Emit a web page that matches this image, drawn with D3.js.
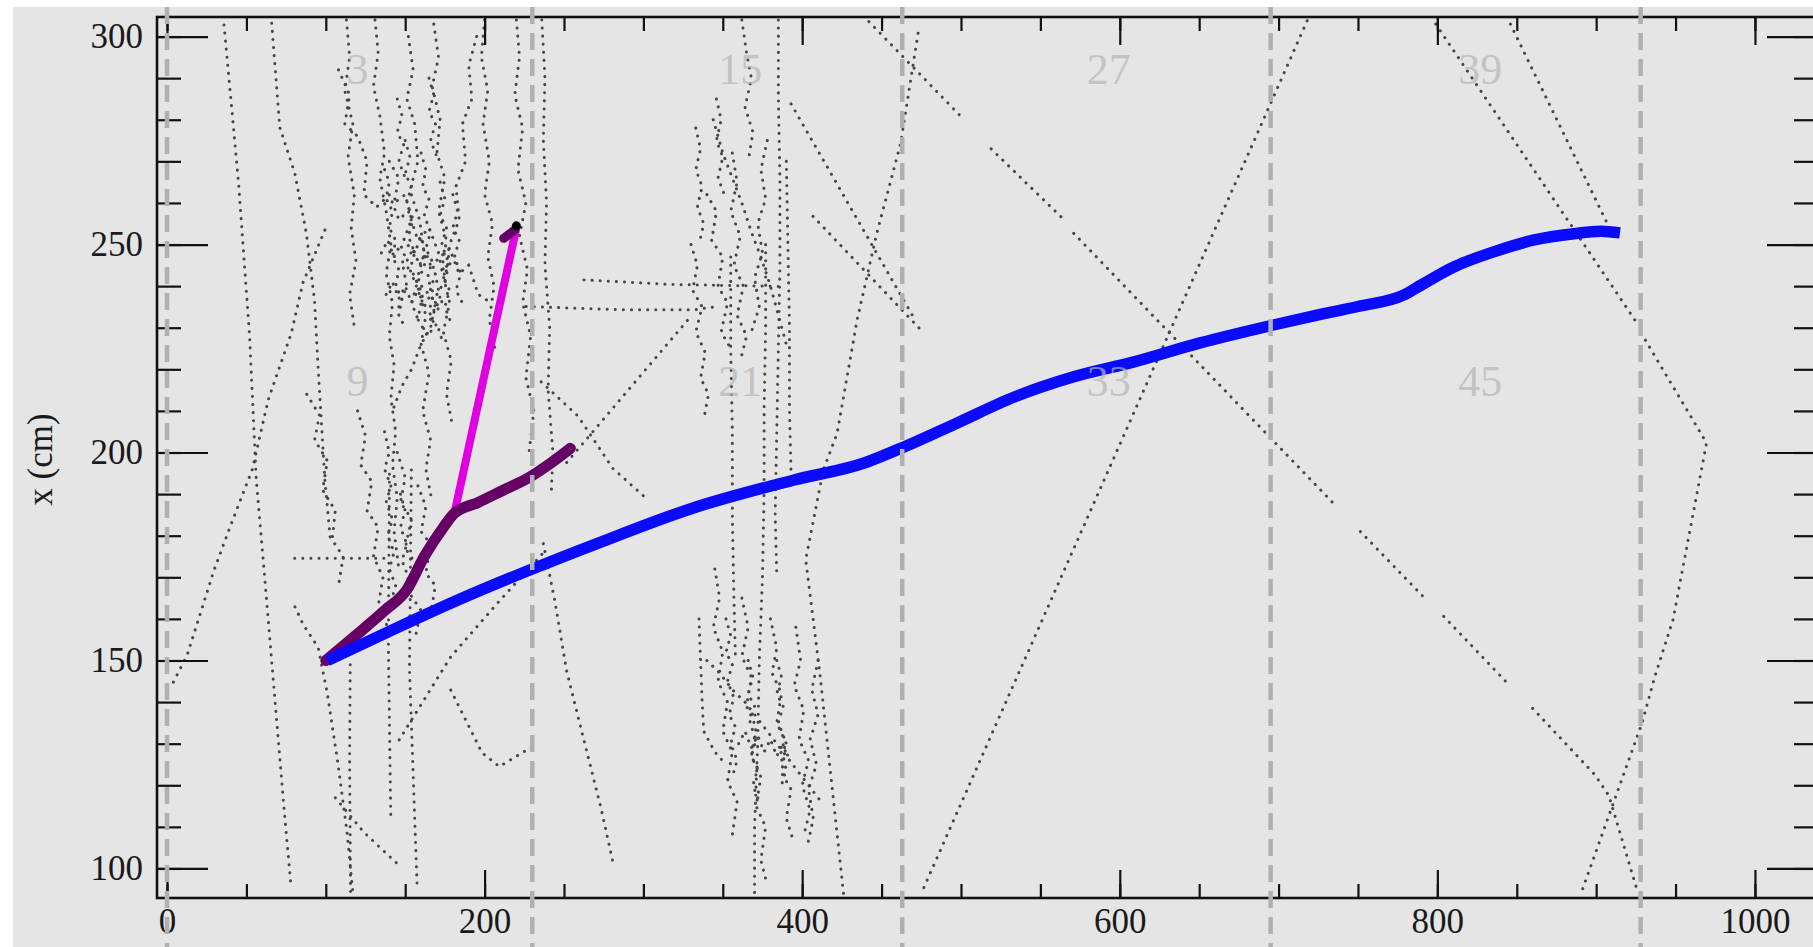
<!DOCTYPE html>
<html>
<head>
<meta charset="utf-8">
<script src="https://cdn.jsdelivr.net/npm/d3@7"></script>
<style>
  html, body { margin: 0; padding: 0; background: #ffffff; }
  svg { display: block; }
</style>
</head>
<body>
<svg id="chart" width="1813" height="947"></svg>
<script>
// ---------------- axis ticks ----------------
const xTickValues = d3.range(0, 1001, 50);
const xMajorTicks = [0, 200, 400, 600, 800, 1000];
const yTickValues = d3.range(100, 301, 10);
const yMajorTicks = [100, 150, 200, 250, 300];

// ---------------- wire-group boundaries and group numbers ----------------
const groupBounds = [0, 230, 463, 695, 928];
const groupLabels = [3, 15, 27, 39, 9, 21, 33, 45];
const groupLabelX = [120, 361, 593, 827, 120, 361, 593, 827];
const groupLabelY = [292, 292, 292, 292, 217, 217, 217, 217];

// ---------------- reconstructed tracks (z, x in cm) ----------------
const longTrack = [[101,150],[140,157],[180,164],[230,172],[272,178.3],[330,186.5],[395,193.4],[440,197.6],
  [462,201],[497,207],[534,213.4],[571,218.2],[609,221.8],[650,226.3],[696,230.6],[725,233.1],[750,235.1],
  [779,237.9],[790,240.3],[811,244.7],[836,248.3],[861,251.1],[886,252.6],[903,253.2],[915,252.8]];
const heavyTrack = [[100,150],[125,158],[137,162],[151,167],[162,175],[174,182],[181,185.4],[196,188],
  [212,191],[228,194],[240,197],[254,201]];
const heavyStub = [[212,251.5],[219,253.5]];
const branchTrack = [[181,185.4],[220,254]];
const branchEnd = [220, 254.5];

// ---------------- low-energy hits drawn as dotted paths ----------------
const straightHits = [
  [[442,303.6],[502,280]],
  [[519,273],[564,256.3]],
  [[571,252.7],[734,188]],
  [[751.5,181],[791,165.4]],
  [[804,160.6],[843,145]],
  [[860,138.5],[899,122.6],[908,117.5],[926,94.5]],
  [[799,303],[925,231.5]],
  [[931,227],[969.5,202.3],[948.4,159.8],[937,146.2],[929,135.1],[890,93.5]],
  [[846,303],[909,253.5]],
  [[718,303.8],[475,94]],
  [[473,300.8],[462,274.3],[447,252.7],[434.6,231.9],[422,204.6],[413.3,195.8],[402.2,174.2],[410.9,147.7],[426,94]],
  [[393,283.8],[471.6,231.5]],
  [[406.8,256.8],[476.7,228.7]],
  [[251.7,197.6],[329.6,232.6]],
  [[262.6,241.5],[317.2,240.4],[390,239.9]],
  [[226.2,235.1],[288.1,234.3],[331.8,234.3],[346.4,235.1]],
  [[235.6,217],[258.9,208.7],[280.7,196.2],[302.6,188.7]],
  [[237,178.1],[244.3,164.2],[251.6,147.6],[258.9,136.4],[266.2,125.3],[273.5,114.2],[280.7,101.7]],
  [[4,144.8],[12.8,151.4],[29.7,171.8],[39.9,182.3],[53.7,195.9],[63.7,212.6],[78.3,228.7],[85.5,240.7],[99.4,253.5]],
  [[35.9,302.8],[45,265],[52,228],[56.2,193.4],[61.1,171.8],[73.4,115.7],[78.1,95.6]],
  [[65.9,303.2],[71,278.2],[80.5,267.1],[87.8,252.6],[92.9,236.5],[95.1,220.7],[99.4,193.4],[103.1,178.1]],
  [[80.4,174.6],[138.2,174.6]],
  [[80.6,162.9],[85.7,158.7],[95.2,153.1],[101,142],[107.6,125.3],[113.4,108.6],[117,94.2]],
  [[115.4,149],[115,125],[115.6,94.2]],
  [[140.1,194.8],[139.4,153.1],[140.9,112.8]],
  [[153.9,195.8],[152.7,147.7],[157.5,95.6]],
  [[146.2,130.9],[178.7,150.9],[207.9,163.7],[237,175.9]],
  [[178.7,142.9],[198.4,127.8],[209.3,124.5],[229.7,129.2]],
  [[106,117],[124.2,108.6],[146,100.8]]
];

const upstreamShower = [
  [[131,304],[133,296],[130,288],[134,281],[137,272],[134,266],[138,258],[141,250],[138,243],[142,236],[140,228],[143,221],[141,213],[144,205],[142,197],[145,189],[143,181],[146,172]],
  [[152,300],[155,292],[151,285],[156,279],[158,270],[153,263],[159,256],[162,248],[157,241],[163,233],[160,226],[165,219],[161,210],[166,203],[163,196],[167,188]],
  [[168,303],[171,295],[167,288],[172,280],[170,272],[175,266],[171,258],[176,251],[173,244],[178,236],[174,229],[179,222],[176,214],[180,206]],
  [[108,292],[115,286],[112,279],[120,276],[126,270],[124,262],[132,259],[140,262],[146,256],[152,258],[158,251],[165,254],[172,247],[178,249],[184,243],[190,245],[196,238],[204,236]],
  [[195,300],[190,293],[192,285],[186,279],[188,270],[182,264],[184,256],[178,250],[176,242],[170,238],[166,230],[160,226],[154,220],[148,216],[142,210]],
  [[200,304],[198,295],[202,287],[199,279],[203,270],[200,262],[205,255],[202,247],[206,240],[203,232],[207,224]],
  [[113,304],[115,295],[112,287],[117,279],[114,271],[118,262],[116,254],[119,246],[115,238],[118,230]],
  [[140,270],[146,266],[143,260],[150,262],[154,256],[149,251],[156,248],[160,252],[163,246],[158,241],[165,238],[169,243],[172,237],[166,232]],
  [[146,235],[151,240],[148,246],[155,243],[161,238],[158,232],[164,228],[170,231],[174,226]],
  [[220,304],[222,295],[219,286],[224,278],[221,268],[226,260],[222,252],[227,244],[224,236],[229,228],[226,218],[231,210],[228,200]],
  [[236,304],[238,290],[237,275],[239,260],[238,245],[241,230],[240,215],[243,200],[242,190]],
  [[137,268],[140,265],[138,261],[142,258],[140,254],[144,251],[142,247],[146,244],[144,240],[148,237],[146,233],[150,230]],
  [[150,275],[153,271],[150,267],[154,264],[151,260],[155,256],[152,252],[156,248],[153,244],[157,240],[154,236],[158,232]],
  [[160,272],[163,268],[161,264],[165,261],[162,257],[166,253],[163,249],[167,246],[164,242],[168,238],[165,234],[169,230]],
  [[172,265],[175,261],[172,257],[176,254],[173,250],[177,246],[174,242],[178,239],[175,235],[179,231]],
  [[180,262],[183,258],[180,254],[184,251],[181,247],[185,243],[182,239],[186,236]],
  [[135,248],[139,251],[143,247],[147,250],[151,246],[155,249],[159,245],[163,248],[167,244],[171,247],[175,243],[179,246]],
  [[138,238],[142,241],[146,237],[150,240],[154,236],[158,239],[162,235],[166,238],[170,234],[174,237]],
  [[145,285],[148,281],[145,277],[149,274],[146,270],[150,266]],
  [[165,290],[168,286],[165,282],[169,279],[166,275],[170,271]],
  [[88,214],[96,209],[93,203],[101,198],[98,191],[106,186],[104,179],[111,175],[108,168]],
  [[120,210],[125,204],[122,197],[129,193],[126,186],[133,182],[130,175],[136,170],[133,163],[139,158]],
  [[145,200],[150,194],[147,188],[154,184],[150,177],[157,173],[153,166],[160,162],[156,155]],
  [[158,192],[163,187],[160,181],[166,178],[163,171],[169,168],[166,161]],
  [[137,205],[140,200],[137,196],[141,192],[138,188],[142,184],[139,180],[143,176],[140,172],[144,168],[141,164]],
  [[147,190],[150,186],[147,182],[151,178],[148,174],[152,170],[149,166]]
];

const midShower = [
  [[356,272],[359,265],[355,258],[361,252],[357,245],[363,240],[359,233],[365,228],[361,222]],
  [[340,262],[346,258],[343,251],[350,247],[347,240],[353,236],[349,229],[355,225]],
  [[330,250],[334,245],[331,239],[337,235],[333,229],[339,224],[336,218],[341,214],[338,208]],
  [[344,280],[350,272],[356,266],[362,260],[368,253],[374,247],[380,240],[385,233],[390,226]],
  [[378,275],[374,268],[377,261],[372,255],[375,248],[370,242],[373,235],[368,229]],
  [[362,304],[365,296],[368,290],[364,283],[369,277],[366,270]],
  [[333,278],[336,273],[333,268],[337,264],[334,259],[338,255],[335,250]],
  [[346,285],[349,280],[346,275],[350,271],[347,266],[351,262]],
  [[355,247],[355,225],[356,205],[356,185],[357,165],[358,150]],
  [[377,250],[377,230],[376,210],[376,190],[375,170],[373,150],[372,130],[370,110],[370,94]],
  [[385,304],[385,285],[386,265],[386,245],[385,225],[384,205],[383,185],[384,170]],
  [[390,270],[391,250],[392,230],[392,210],[393,195]],
  [[345,172],[348,165],[344,158],[350,152],[347,145],[353,140],[350,133],[356,128],[353,121],[359,116],[356,108]],
  [[362,165],[366,158],[362,151],[368,146],[365,139],[371,134],[368,127],[374,122],[371,115],[377,110],[374,102],[378,96]],
  [[380,160],[384,153],[381,147],[387,142],[384,135],[390,130],[387,123],[393,119],[390,112],[395,106]],
  [[396,158],[399,150],[395,144],[401,138],[398,131],[404,126],[400,120],[405,114],[401,108]],
  [[340,150],[348,147],[356,143],[364,140],[372,136],[380,132],[388,128],[396,124],[404,120],[412,116]],
  [[410,150],[406,143],[410,137],[405,131],[409,125],[404,119],[407,112],[403,105]],
  [[335,160],[336,150],[337,140],[338,133],[345,128],[352,125]],
  [[352,160],[355,156],[352,152],[356,149],[353,145],[357,141],[354,137],[358,134],[355,130],[359,126],[356,122]],
  [[366,150],[369,146],[366,142],[370,139],[367,135],[371,131],[368,127],[372,124],[369,120],[373,116]],
  [[384,150],[387,146],[384,142],[388,139],[385,135],[389,131],[386,127],[390,124],[387,120]],
  [[360,130],[364,133],[368,129],[372,132],[376,128],[380,131],[384,127],[388,130],[392,126]]
];

// ---------------- layout ----------------
const svg = d3.select('#chart');
const W = 1813, H = 947;
const x = d3.scaleLinear().domain([-6.3, 1039.7]).range([157, 1818]);
const y = d3.scaleLinear().domain([92.9, 304.7]).range([898, 17]);
const [x0, x1] = x.range();
const [y0, y1] = y.range();

svg.append('rect').attr('x', 13).attr('y', 7).attr('width', W - 13).attr('height', H - 7).attr('fill', '#e5e5e5');

svg.append('clipPath').attr('id', 'plot-clip')
  .append('rect').attr('x', x0).attr('y', y1).attr('width', x1 - x0).attr('height', y0 - y1);

const plot = svg.append('g').attr('clip-path', 'url(#plot-clip)');
const line = d3.line().x(d => x(d[0])).y(d => y(d[1]));
const smoothLine = d3.line().x(d => x(d[0])).y(d => y(d[1])).curve(d3.curveMonotoneX);

// dotted hit paths
plot.append('g')
  .selectAll('path')
  .data([...straightHits, ...upstreamShower, ...midShower])
  .join('path')
  .attr('d', line)
  .attr('fill', 'none')
  .attr('stroke', '#454545')
  .attr('stroke-width', 3)
  .attr('stroke-linecap', 'round')
  .attr('stroke-dasharray', '0.1 8');

// reconstructed tracks
plot.append('path').datum(branchTrack).attr('d', line)
  .attr('fill', 'none').attr('stroke', '#e000e0').attr('stroke-width', 8).attr('stroke-linecap', 'butt');
plot.append('path').datum(heavyTrack).attr('d', smoothLine)
  .attr('fill', 'none').attr('stroke', '#660066').attr('stroke-width', 11)
  .attr('stroke-linecap', 'round').attr('stroke-linejoin', 'round');
plot.append('path').datum(heavyStub).attr('d', line)
  .attr('fill', 'none').attr('stroke', '#660066').attr('stroke-width', 9).attr('stroke-linecap', 'round');
plot.append('path').datum(longTrack).attr('d', smoothLine)
  .attr('fill', 'none').attr('stroke', '#0a0aff').attr('stroke-width', 11.5)
  .attr('stroke-linecap', 'butt').attr('stroke-linejoin', 'round');
plot.append('circle').attr('cx', x(branchEnd[0])).attr('cy', y(branchEnd[1])).attr('r', 4.5).attr('fill', '#000');

// group numbers
plot.append('g')
  .selectAll('text')
  .data(groupLabels)
  .join('text')
  .attr('x', (d, i) => x(groupLabelX[i]))
  .attr('y', (d, i) => y(groupLabelY[i]))
  .attr('text-anchor', 'middle')
  .attr('dominant-baseline', 'central')
  .attr('font-family', '"Liberation Serif", serif')
  .attr('font-size', 44)
  .attr('fill', '#b4b4b4')
  .attr('fill-opacity', 0.7)
  .text(d => d);

// ---------------- axes ----------------
function styleAxis(g) {
  g.select('.domain').remove();
  g.selectAll('line').attr('stroke', '#111').attr('stroke-width', 2.2);
  g.selectAll('text')
    .attr('font-family', '"Liberation Serif", serif')
    .attr('font-size', 35)
    .attr('fill', '#1a1a1a');
}

// bottom
svg.append('g').attr('transform', `translate(0,${y0})`)
  .call(d3.axisBottom(x).tickValues(xTickValues).tickSizeInner(-14).tickSizeOuter(0).tickFormat(''))
  .call(styleAxis);
svg.append('g').attr('transform', `translate(0,${y0})`)
  .call(d3.axisBottom(x).tickValues(xMajorTicks).tickSizeInner(-28).tickSizeOuter(0).tickPadding(10).tickFormat(d3.format('d')))
  .call(styleAxis);
// top
svg.append('g').attr('transform', `translate(0,${y1})`)
  .call(d3.axisTop(x).tickValues(xTickValues).tickSizeInner(-14).tickSizeOuter(0).tickFormat(''))
  .call(styleAxis);
svg.append('g').attr('transform', `translate(0,${y1})`)
  .call(d3.axisTop(x).tickValues(xMajorTicks).tickSizeInner(-28).tickSizeOuter(0).tickFormat(''))
  .call(styleAxis);
// left
svg.append('g').attr('transform', `translate(${x0},0)`)
  .call(d3.axisLeft(y).tickValues(yTickValues).tickSizeInner(-24).tickSizeOuter(0).tickFormat(''))
  .call(styleAxis);
svg.append('g').attr('transform', `translate(${x0},0)`)
  .call(d3.axisLeft(y).tickValues(yMajorTicks).tickSizeInner(-51).tickSizeOuter(0).tickPadding(14).tickFormat(d3.format('d')))
  .call(styleAxis);
// right
svg.append('g').attr('transform', `translate(${x1},0)`)
  .call(d3.axisRight(y).tickValues(yTickValues).tickSizeInner(-24).tickSizeOuter(0).tickFormat(''))
  .call(styleAxis);
svg.append('g').attr('transform', `translate(${x1},0)`)
  .call(d3.axisRight(y).tickValues(yMajorTicks).tickSizeInner(-51).tickSizeOuter(0).tickFormat(''))
  .call(styleAxis);

// frame
svg.append('rect')
  .attr('x', x0).attr('y', y1).attr('width', x1 - x0).attr('height', y0 - y1)
  .attr('fill', 'none').attr('stroke', '#111').attr('stroke-width', 2.6);

// axis title
svg.append('text')
  .attr('transform', `translate(40,${(y0 + y1) / 2 + 2}) rotate(-90)`)
  .attr('text-anchor', 'middle')
  .attr('dominant-baseline', 'central')
  .attr('font-family', '"Liberation Serif", serif')
  .attr('font-size', 35)
  .attr('fill', '#1a1a1a')
  .text('x (cm)');

// wire-group boundaries, drawn over everything across the whole figure height
svg.append('g')
  .selectAll('line')
  .data(groupBounds)
  .join('line')
  .attr('x1', d => x(d)).attr('x2', d => x(d))
  .attr('y1', 7).attr('y2', H)
  .attr('stroke', '#b0b0b0')
  .attr('stroke-width', 4.5)
  .attr('stroke-dasharray', '17 9');
</script>
</body>
</html>
